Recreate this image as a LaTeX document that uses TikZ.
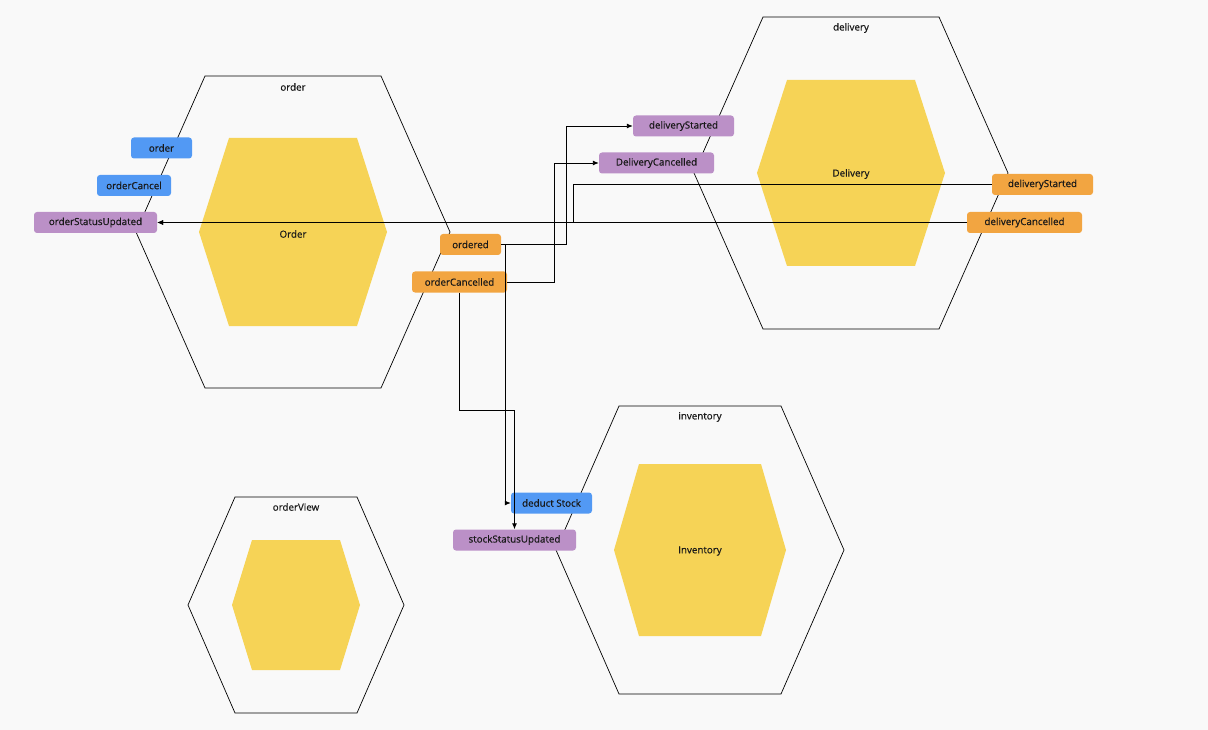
\documentclass[tikz,border=0pt]{standalone}
\usepackage{fontspec}
\setmainfont{Open Sans}[FakeBold=0.6]
\newfontfamily\lblfont{Open Sans}[FakeBold=0.6]
\usetikzlibrary{arrows.meta}
\definecolor{bg}{HTML}{F9F9F9}
\definecolor{cmdblue}{HTML}{5299F4}
\definecolor{evtorange}{HTML}{F2A541}
\definecolor{polpurple}{HTML}{BB90C7}
\definecolor{aggyellow}{HTML}{F6D356}
% hexagon: centre x, centre y, half width, half top edge, half height
\newcommand{\hexcell}[6][draw]{\path[#1] (#2-#4,#3) -- (#2-#5,#3-#6) -- (#2+#5,#3-#6) -- (#2+#4,#3) -- (#2+#5,#3+#6) -- (#2-#5,#3+#6) -- cycle;}

\begin{document}
\begin{tikzpicture}[x=1pt,y=-1pt,
  txt/.style={font=\lblfont\fontsize{9.8}{11}\selectfont,text=black!90},
  box/.style={txt,rounded corners=3pt,minimum height=21pt,inner sep=0pt},
  cmd/.style={box,fill=cmdblue},
  evt/.style={box,fill=evtorange},
  pol/.style={box,fill=polpurple},
  conn/.style={-{Latex[length=6pt,width=5pt]},line width=0.9pt},
  hexline/.style={draw,line width=0.7pt},
  core/.style={fill=aggyellow}]
\fill[bg] (0,0) rectangle (1208,730);
\useasboundingbox (0,0) rectangle (1208,730);

% bounded contexts
\hexcell[hexline]{293}{232}{157}{88}{156}
\hexcell[core]{293}{232}{94}{64}{94}
\node[txt] (orderCtx) at (293,87) {order};
\node[txt] (orderAgg) at (293,234) {Order};

\hexcell[hexline]{851}{173}{157}{88}{156}
\hexcell[core]{851}{173}{94}{64}{93}
\node[txt] (deliveryCtx) at (851,28) {delivery};
\node[txt] (deliveryAgg) at (851,174) {Delivery};

\hexcell[hexline]{700}{550}{144}{81}{144}
\hexcell[core]{700}{550}{86}{61}{86}
\node[txt] (inventoryCtx) at (700,417) {inventory};
\node[txt] (inventoryAgg) at (700,551) {Inventory};

\hexcell[hexline]{296}{605}{108}{61}{108}
\hexcell[core]{296}{605}{64}{44}{65}
\node[txt] (orderViewCtx) at (296,507) {orderView};

% commands, events, policies
\node[cmd,minimum width=61pt] (order) at (161.5,148) {order};
\node[cmd,minimum width=74pt] (orderCancel) at (134,185.5) {orderCancel};
\node[pol,minimum width=123pt] (orderStatusUpdated) at (95.5,222.5) {orderStatusUpdated};
\node[evt,minimum width=61pt] (ordered) at (470.5,244.5) {ordered};
\node[evt,minimum width=95pt] (orderCancelled) at (459.5,282) {orderCancelled};
\node[pol,minimum width=101pt] (deliveryStartedIn) at (683.5,126) {deliveryStarted};
\node[pol,minimum width=115pt] (deliveryCancelledIn) at (656.5,163) {DeliveryCancelled};
\node[evt,minimum width=101pt] (deliveryStarted) at (1042.5,184.5) {deliveryStarted};
\node[evt,minimum width=115pt] (deliveryCancelled) at (1024.5,222.5) {deliveryCancelled};
\node[cmd,minimum width=81pt] (deductStock) at (551.5,503) {deduct Stock};
\node[pol,minimum width=123pt] (stockStatusUpdated) at (514.5,540) {stockStatusUpdated};

\draw[conn] (ordered.east) -- ++(65,0) |- (deliveryStartedIn.west);
\draw[conn] (orderCancelled.east) -- ++(47,0) |- (deliveryCancelledIn.west);
\draw[conn] (deliveryStarted.west) -- ++(-418,0) |- (orderStatusUpdated.east);
\draw[conn] (deliveryCancelled.west) -- (orderStatusUpdated.east);
\draw[conn] (ordered.east) -- ++(4,0) |- (deductStock.west);
\draw[conn] (orderCancelled.south) -- ++(0,118) -| (stockStatusUpdated.north);
%\node[txt] at (60,50) {};

\end{tikzpicture}
\end{document}
